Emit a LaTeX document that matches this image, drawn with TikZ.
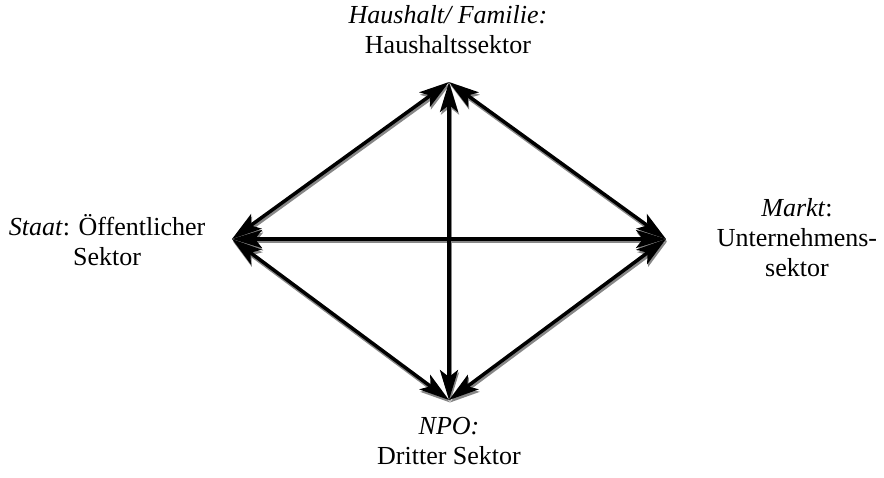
\documentclass[tikz,border=0pt]{standalone}
\usepackage{fontspec}
\setmainfont{Liberation Serif}
\usetikzlibrary{arrows.meta}
\definecolor{shadowgray}{RGB}{135,135,135}
\begin{document}
\begin{tikzpicture}[x=1pt,y=-1pt,
  lbl/.style={font=\fontsize{26}{30}\selectfont, align=center, anchor=base, inner sep=0pt},
  tip/.tip={Stealth[length=30pt,width=18pt,inset=7pt]},
  dbl/.style={tip-tip, line width=3.5pt, draw=black},
  shd/.style={tip-tip, line width=3.5pt, draw=shadowgray}]
\useasboundingbox (0,0) rectangle (884,477);
\coordinate (T) at (449,82);
\coordinate (L) at (232,239);
\coordinate (R) at (666,239);
\coordinate (B) at (449,400);
\begin{scope}[transform canvas={shift={(1pt,-2.5pt)}}]
  \draw[shd] (T) -- (L);
  \draw[shd] (T) -- (R);
  \draw[shd] (B) -- (L);
  \draw[shd] (B) -- (R);
  \draw[shd] (L) -- (R);
  \draw[shd] (T) -- (B);
\end{scope}
\draw[dbl] (T) -- (L);
\draw[dbl] (T) -- (R);
\draw[dbl] (B) -- (L);
\draw[dbl] (B) -- (R);
\draw[dbl] (L) -- (R);
\draw[dbl] (T) -- (B);
\node[lbl] (top) at (448,53) {\textit{Haushalt/ Familie:}\\Haushaltssektor};
\node[lbl] (left) at (107,265) {\textit{Staat}: Öffentlicher\\Sektor};
\node[lbl] (right) at (797,276) {\textit{Markt}:\\Unternehmens-\\sektor};
\node[lbl] (bottom) at (449,464) {\textit{NPO:}\\Dritter Sektor};
\end{tikzpicture}
\end{document}
